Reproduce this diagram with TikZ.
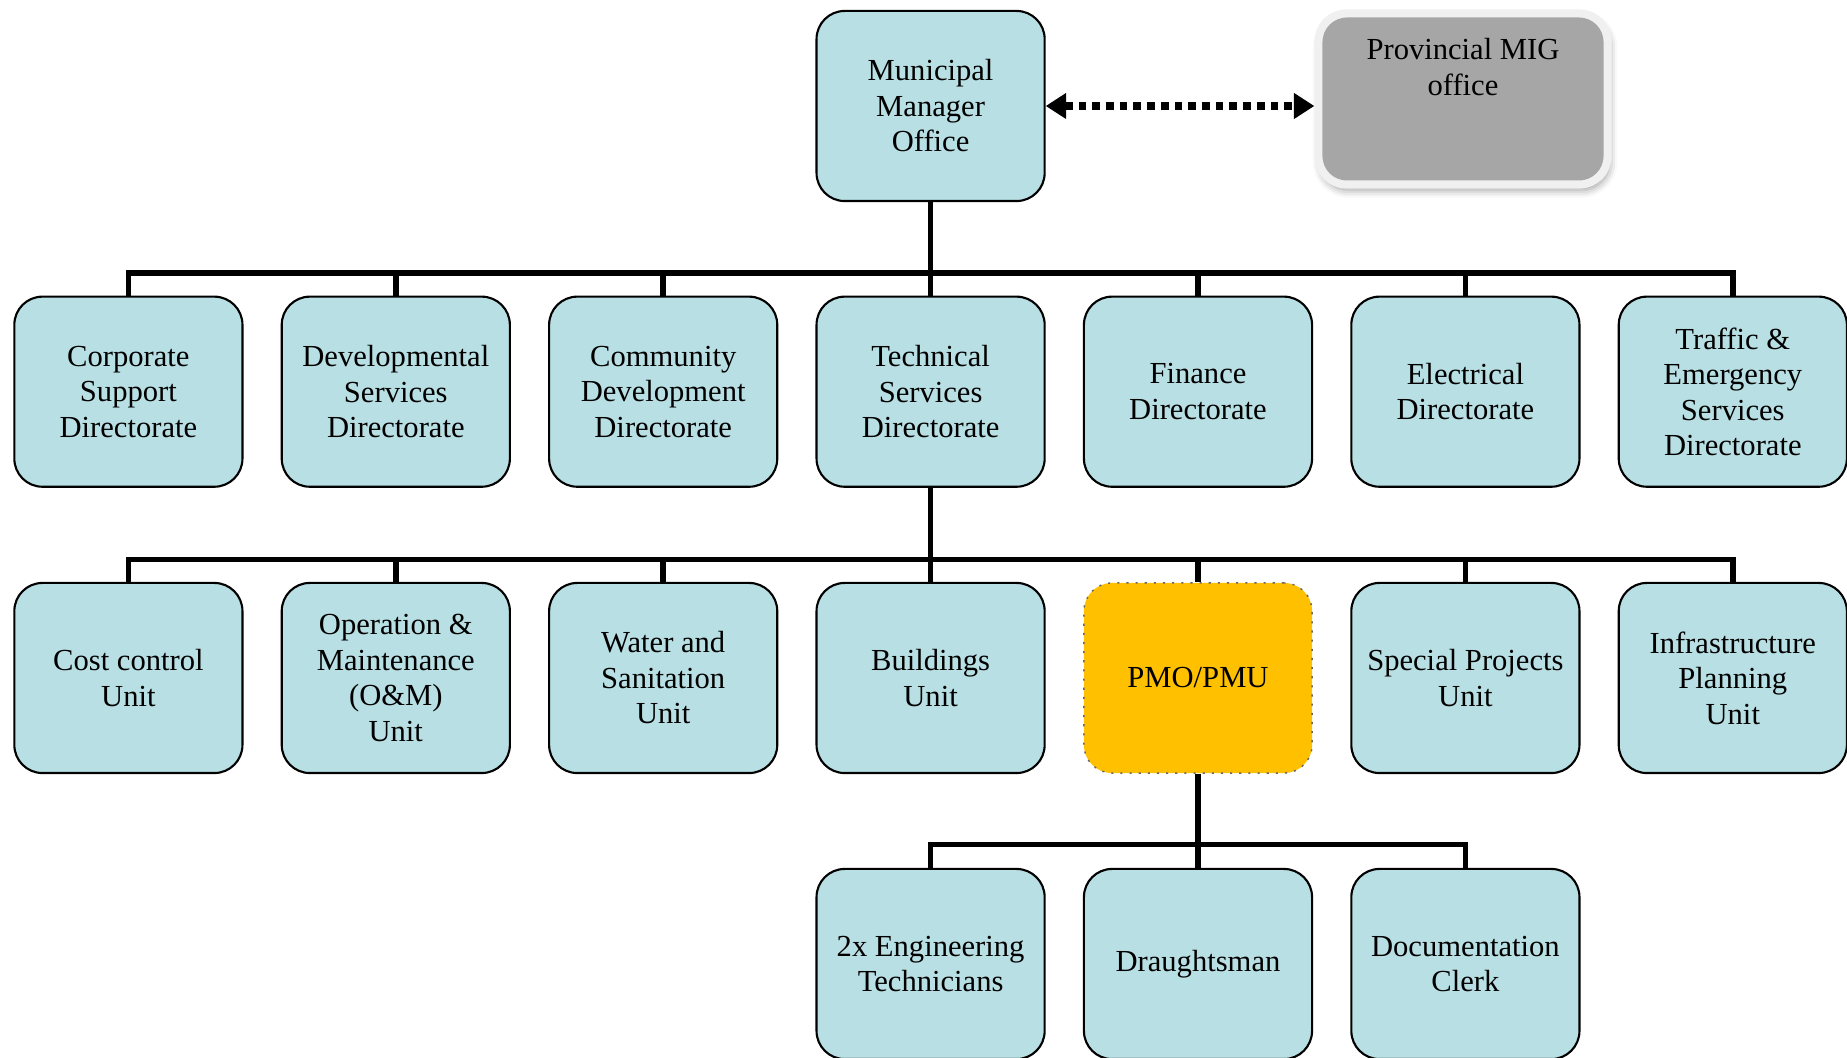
\documentclass[tikz,border=0pt]{standalone}
\usepackage{fontspec}
\setmainfont{Liberation Serif}
\usetikzlibrary{arrows.meta,shadows.blur}
\definecolor{boxblue}{HTML}{B8DFE3}
\definecolor{pmogold}{HTML}{FFC000}
\definecolor{provgray}{HTML}{A6A6A6}
\begin{document}
\begin{tikzpicture}[x=0.01cm,y=-0.01cm,
  unit/.style={draw=black, line width=0.6pt, fill=boxblue, rounded corners=8pt,
    minimum width=2.28cm, minimum height=1.9cm, inner sep=0pt, align=center,
    font=\fontsize{8.7}{10.1}\selectfont},
  pmobox/.style={unit, fill=pmogold, draw=black!60, dotted, line width=0.4pt},
  provbox/.style={draw=black!6, line width=2.3pt, fill=provgray, rounded corners=8pt,
    minimum width=2.89cm, minimum height=1.71cm, inner sep=0pt,
    blur shadow={shadow xshift=0.6pt, shadow yshift=-1.6pt, shadow blur radius=2.2pt, shadow opacity=40}},
  provtext/.style={anchor=north, inner sep=0pt, align=center, font=\fontsize{8.7}{10.1}\selectfont},
  link/.style={line width=1.6pt, line join=miter},
  dotlink/.style={line width=2pt, dash pattern=on 2.2pt off 1.7pt,
    {Triangle[length=5.8pt,width=7pt]}-{Triangle[length=5.8pt,width=7pt]}}
]
\useasboundingbox (0,0) rectangle (1847,1058);
\clip (0,0) rectangle (1847,1058);

% top level
\node[unit] (mmo) at (930.6,106) {Municipal\\Manager\\Office};
\node[provbox] (prov) at (1463,99) {};
\node[provtext] (provlabel) at (1463,38) {Provincial MIG\\office};
\draw[dotlink] (mmo.east) -- (mmo.east -| prov.west);

% directorates
\node[unit] (corp) at (128.4,391.7) {Corporate\\Support\\Directorate};
\node[unit] (devs) at (395.8,391.7) {Developmental\\Services\\Directorate};
\node[unit] (comm) at (663.2,391.7) {Community\\Development\\Directorate};
\node[unit] (tech) at (930.6,391.7) {Technical\\Services\\Directorate};
\node[unit] (fin)  at (1198.0,391.7) {Finance\\Directorate};
\node[unit] (elec) at (1465.4,391.7) {Electrical\\Directorate};
\node[unit] (traf) at (1732.8,391.7) {Traffic \&\\Emergency\\Services\\Directorate};

% technical services units
\node[unit] (cost)  at (128.4,678) {Cost control\\Unit};
\node[unit] (oandm) at (395.8,678) {Operation \&\\Maintenance\\(O\&M)\\Unit};
\node[unit] (water) at (663.2,678) {Water and\\Sanitation\\Unit};
\node[unit] (build) at (930.6,678) {Buildings\\Unit};
\node[pmobox] (pmo) at (1198.0,678) {PMO/PMU};
\node[unit] (spec)  at (1465.4,678) {Special Projects\\Unit};
\node[unit] (infra) at (1732.8,678) {Infrastructure\\Planning\\Unit};

% PMO staff
\node[unit] (eng)   at (930.6,964) {2x Engineering\\Technicians};
\node[unit] (draft) at (1198.0,964) {Draughtsman};
\node[unit] (doc)   at (1465.4,964) {Documentation\\Clerk};

% bus lines
\coordinate (bus1) at (930.6,273.3);
\coordinate (bus2) at (930.6,559.5);
\coordinate (bus3) at (1198.0,844.6);

\foreach \c in {corp,devs,comm,tech,fin,elec,traf}
  \draw[link] (mmo.south) -- (bus1) -| (\c.north);
\foreach \c in {cost,oandm,water,build,pmo,spec,infra}
  \draw[link] (tech.south) -- (bus2) -| (\c.north);
\foreach \c in {eng,draft,doc}
  \draw[link] (pmo.south) -- (bus3) -| (\c.north);
\end{tikzpicture}
\end{document}
